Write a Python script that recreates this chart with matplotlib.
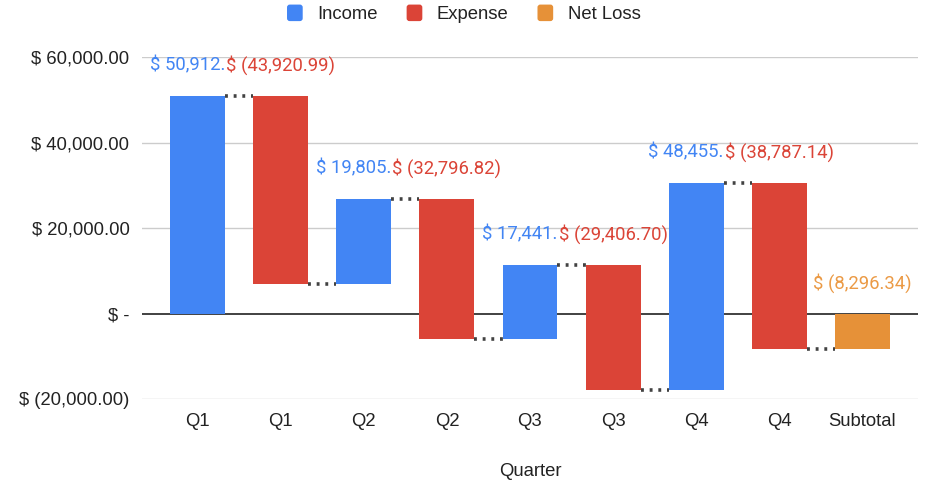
import matplotlib
matplotlib.use('Agg')
import matplotlib.pyplot as plt
from matplotlib.patches import Patch, FancyBboxPatch
from matplotlib.legend_handler import HandlerPatch

quarters = ['Q1', 'Q2', 'Q3', 'Q4']
income = [50912.80, 19805.60, 17441.51, 48455.40]
expense = [-43920.99, -32796.82, -29406.70, -38787.14]
y_ticks = [-20000, 0, 20000, 40000, 60000]

blue = '#4285F4'
red = '#DB4437'
orange = '#E69138'


def money(v):
  '''Формат как в Google Sheets: $ 1,234.56 / $ (1,234.56) / $ -'''
  if v == 0:
    return '$ -'
  if v < 0:
    return '$ ({:,.2f})'.format(-v)
  return '$ {:,.2f}'.format(v)


class RoundSquare(HandlerPatch):
  def create_artists(self, legend, orig_handle, xdescent, ydescent, width, height, fontsize, trans):
    p = FancyBboxPatch((-xdescent + 1, -ydescent), width - 2, height,
                       boxstyle='round,pad=0,rounding_size=2',
                       facecolor=orig_handle.get_facecolor(), edgecolor='none', transform=trans)
    return [p]


# шаги водопада: доход, расход по кварталам, затем итог
steps = []
for q, inc, exp in zip(quarters, income, expense):
  steps.append((q, inc, blue))
  steps.append((q, exp, red))

fig = plt.figure(figsize=(9.26, 4.82), dpi=100)
ax = fig.add_axes([0.1533, 0.1722, 0.9914 - 0.1533, 0.8817 - 0.1722])

width = 0.66
total = 0.0
for i, (q, v, c) in enumerate(steps):
  start = total
  total += v
  ax.bar(i, v, bottom=start, width=width, color=c, zorder=3)
  # соединительная пунктирная линия к следующему столбцу
  ax.plot([i + width / 2, i + 1 - width / 2], [total, total], color='#424242',
          lw=2.6, linestyle=(0, (0.8, 1.6)), dash_capstyle='butt', zorder=2)

n = len(steps)
ax.bar(n, total, bottom=0, width=width, color=orange, zorder=3)

# подписи значений (над верхом пары столбцов)
blue_labels = []
total = 0.0
for k in range(len(quarters)):
  i = 2 * k
  top = total + income[k]
  total = top + expense[k]
  t = ax.annotate(money(income[k]), (i, top), xytext=(0, 22), textcoords='offset points',
                  ha='center', va='center', color=blue, fontsize=13.3, family='Roboto',
                  zorder=5, annotation_clip=False)
  blue_labels.append(t)
  ax.annotate(money(expense[k]), (i + 1, top), xytext=(0, 22), textcoords='offset points',
              ha='center', va='center', color=red, fontsize=13.3, family='Roboto', zorder=6,
              annotation_clip=False)
ax.annotate(money(total), (n, 0), xytext=(0, 22), textcoords='offset points',
            ha='center', va='center', color='#EB9A45', fontsize=13.3, family='Roboto',
            annotation_clip=False)

ax.set_xlim(-0.67, n + 0.67)
ax.set_ylim(-20000, 60000)
ax.set_yticks(y_ticks)
ax.set_yticklabels([money(t) for t in y_ticks])
ax.set_xticks(range(n + 1))
ax.set_xticklabels([s[0] for s in steps] + ['Subtotal'])
for lbl in ax.get_xticklabels() + ax.get_yticklabels():
  lbl.set_family('Liberation Sans')
  lbl.set_fontsize(13.3)
  lbl.set_color('#222222')
ax.tick_params(axis='both', length=0)
ax.tick_params(axis='y', pad=9)
ax.tick_params(axis='x', pad=10)

for t in y_ticks:
  if t == 0:
    ax.axhline(0, color='#333333', lw=1.3, zorder=2)
  else:
    ax.axhline(t, color='#CCCCCC', lw=1, zorder=1)
for s in ax.spines.values():
  s.set_visible(False)

ax.set_xlabel('Quarter', family='Liberation Sans', fontsize=13.3, color='#222222', labelpad=24)

handles = [Patch(color=blue, label='Income'), Patch(color=red, label='Expense'),
           Patch(color=orange, label='Net Loss')]
fig.legend(handles=handles, loc='upper center', bbox_to_anchor=(0.5, 1.025), ncol=3,
           frameon=False, prop={'family': 'Liberation Sans', 'size': 13.3},
           handlelength=1.0, handleheight=1.0, handletextpad=0.7, columnspacing=1.5,
           handler_map={Patch: RoundSquare()}, labelcolor='#222222')

# синие подписи обрезаны красными, как в Google Sheets: оставляем начало строки
fig.canvas.draw()
for t in blue_labels:
  bb = t.get_window_extent()
  x_anchor = ax.transData.transform(t.xy)[0]
  t.set_text(t.get_text()[:-2])
  t.set_ha('left')
  t.set_position(((bb.x0 - x_anchor) * 72 / fig.dpi, 22))

fig.savefig('out.png', dpi=100, facecolor='white')
